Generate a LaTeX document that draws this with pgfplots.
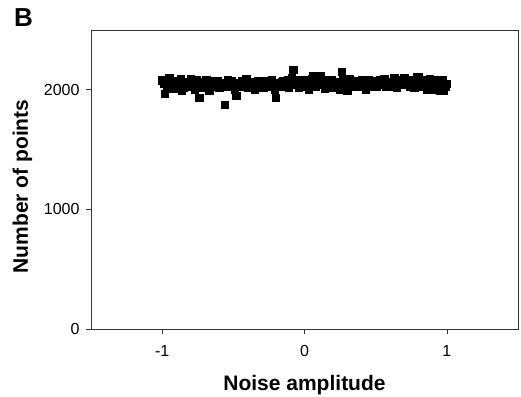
\documentclass[border=0pt]{standalone}
\usepackage{pgfplots}
\pgfplotsset{compat=1.18}
\usepackage{fontspec}
\setmainfont{Liberation Sans}
\begin{document}
\begin{tikzpicture}[x=1pt,y=1pt]
\begin{axis}[
  name=ax,
  at={(91pt,67pt)}, anchor=south west,
  scale only axis, width=427pt, height=299pt,
  xmin=-1.5, xmax=1.5, ymin=0, ymax=2500,
  xtick={-1,0,1}, ytick={0,1000,2000},
  xtick pos=bottom, ytick pos=left,
  tick align=outside, major tick length=5pt,
  axis line style={line width=0.6pt, black!80},
  tick style={line width=0.6pt, black!80},
  /pgf/number format/assume math mode=true,
  /pgf/number format/1000 sep={},
  ticklabel style={font=\fontsize{16}{19}\selectfont},
  yticklabel style={xshift=-3pt},
  xticklabel style={yshift=-8pt},
  xlabel={\bfseries Noise amplitude},
  ylabel={\bfseries Number of points},
  label style={font=\fontsize{21}{25}\selectfont},
  xlabel style={at={(axis description cs:0.5,0)}, anchor=base, yshift=-61pt},
  ylabel style={at={([xshift=-63pt,yshift=-7pt]axis description cs:0,0.5)}, anchor=base, rotate=0},
]
\addplot[only marks, mark=square*, mark size=3.6pt, mark options={fill=black, draw=black}] coordinates {
(-1.00,2080) (-0.98,1970) (-0.96,2070) (-0.94,2060) (-0.92,2040) (-0.90,2075) (-0.88,2010) (-0.86,1995) (-0.84,2060) (-0.82,2030)
(-0.80,2090) (-0.78,2050) (-0.76,2080) (-0.74,1935) (-0.72,2020) (-0.70,2065) (-0.68,2040) (-0.66,2030) (-0.64,2075) (-0.62,2060)
(-0.60,2020) (-0.58,2045) (-0.56,1875) (-0.54,2080) (-0.52,2065) (-0.50,2030) (-0.48,1950) (-0.46,2040) (-0.44,2075) (-0.42,2060)
(-0.40,2020) (-0.38,2055) (-0.36,2070) (-0.34,2040) (-0.32,2060) (-0.30,2050) (-0.28,2075) (-0.26,2060) (-0.24,2030) (-0.22,2050)
(-0.20,1935) (-0.18,2040) (-0.16,2065) (-0.14,2050) (-0.12,2080) (-0.10,2060) (-0.08,2170) (-0.06,2070) (-0.04,2020) (-0.02,2050)
(0.00,2040) (0.02,2080) (0.04,2060) (0.06,2120) (0.08,2030) (0.10,2075) (0.12,2060) (0.14,2010) (0.16,2080) (0.18,2050)
(0.20,2020) (0.22,2070) (0.24,2040) (0.26,2150) (0.28,2060) (0.30,1995) (0.32,2090) (0.34,2050) (0.36,2030) (0.38,2060)
(0.40,2080) (0.42,2040) (0.44,2060) (0.46,2050) (0.48,2030) (0.50,2075) (0.52,2060) (0.54,2040) (0.56,2090) (0.58,2050)
(0.60,2065) (0.62,2030) (0.64,2080) (0.66,2050) (0.68,2040) (0.70,2100) (0.72,2060) (0.74,2030) (0.76,2075) (0.78,2050)
(0.80,2110) (0.82,2040) (0.84,2070) (0.86,2000) (0.88,2090) (0.90,2050) (0.92,2020) (0.94,2080) (0.96,2040) (0.98,1995)
(1.00,2050)
(-0.99,2050) (-0.97,2030) (-0.95,2100) (-0.93,2010) (-0.91,2060) (-0.89,2045) (-0.87,2095) (-0.85,2020) (-0.83,2070) (-0.81,2040)
(-0.79,2060) (-0.77,2000) (-0.75,2070) (-0.73,2050) (-0.71,2030) (-0.69,2080) (-0.67,1995) (-0.65,2060) (-0.63,2040) (-0.61,2075)
(-0.59,2030) (-0.57,2060) (-0.55,2025) (-0.53,2045) (-0.51,2075) (-0.49,2000) (-0.47,2060) (-0.45,2030) (-0.43,2050) (-0.41,2095)
(-0.39,2035) (-0.37,2060) (-0.35,2000) (-0.33,2075) (-0.31,2045) (-0.29,2020) (-0.27,2065) (-0.25,2050) (-0.23,2080) (-0.21,2000)
(-0.19,2060) (-0.17,2030) (-0.15,2075) (-0.13,2040) (-0.11,2020) (-0.09,2100) (-0.07,2045) (-0.05,2065) (-0.03,2085) (-0.01,2030)
(0.01,2060) (0.03,2005) (0.05,2090) (0.07,2050) (0.09,2070) (0.11,2115) (0.13,2040) (0.15,2065) (0.17,2025) (0.19,2085)
(0.21,2045) (0.23,2060) (0.25,2005) (0.27,2080) (0.29,2040) (0.31,2065) (0.33,2025) (0.35,2075) (0.37,2050) (0.39,2030)
(0.41,2070) (0.43,2000) (0.45,2085) (0.47,2045) (0.49,2060) (0.51,2030) (0.53,2080) (0.55,2050) (0.57,2025) (0.59,2070)
(0.61,2045) (0.63,2100) (0.65,2020) (0.67,2060) (0.69,2075) (0.71,2040) (0.73,2085) (0.75,2050) (0.77,2020) (0.79,2105)
(0.81,2060) (0.83,2030) (0.85,2080) (0.87,2050) (0.89,2005) (0.91,2070) (0.93,2040) (0.95,1990) (0.97,2080) (0.99,2030)
};
\end{axis}
\node[anchor=base west, font=\fontsize{26}{30}\selectfont\bfseries, inner sep=0pt] at (14pt,369pt) {B};
\pgfresetboundingbox
\path (0pt,0pt) rectangle (521pt,396pt);
\end{tikzpicture}
\end{document}
